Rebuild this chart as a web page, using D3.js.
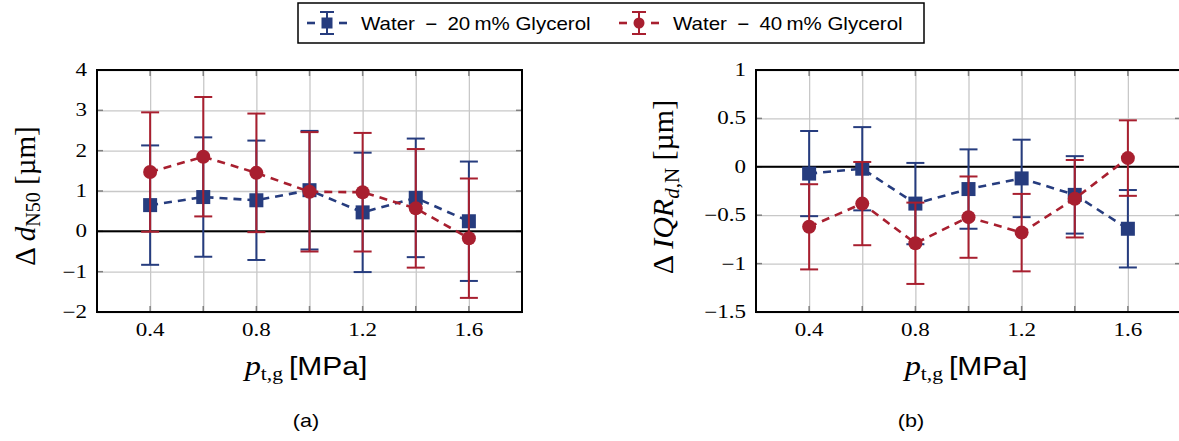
<!DOCTYPE html>
<html><head><meta charset="utf-8">
<script src="https://cdn.jsdelivr.net/npm/d3@7"></script>
<style>
body{margin:0;background:#fff;}
svg{display:block;}
</style></head>
<body>
<svg id="chart" width="1179" height="441"></svg>
<script>
// ---- data ----
const pressures = [0.4, 0.6, 0.8, 1.0, 1.2, 1.4, 1.6];
const seriesNames = ["Water\u2002\u2212\u200220\u2009m% Glycerol", "Water\u2002\u2212\u200240\u2009m% Glycerol"];
// panel (a): Δ d_N50
const dN50_20 = [0.65, 0.85, 0.77, 1.02, 0.47, 0.83, 0.25];
const dN50_20_err = [1.48, 1.48, 1.48, 1.47, 1.48, 1.47, 1.48];
const dN50_40 = [1.47, 1.85, 1.45, 0.98, 0.97, 0.57, -0.17];
const dN50_40_err = [1.48, 1.48, 1.47, 1.48, 1.47, 1.47, 1.48];
// panel (b): Δ IQR_d,N
const iqr_20 = [-0.07, -0.02, -0.38, -0.23, -0.12, -0.29, -0.64];
const iqr_20_err = [0.44, 0.43, 0.42, 0.41, 0.40, 0.40, 0.40];
const iqr_40 = [-0.62, -0.38, -0.79, -0.52, -0.68, -0.33, 0.09];
const iqr_40_err = [0.44, 0.43, 0.42, 0.42, 0.40, 0.40, 0.39];
const xTicks = [0.4, 0.8, 1.2, 1.6];
const yTicksA = [-2, -1, 0, 1, 2, 3, 4];
const yTicksB = [-1.5, -1, -0.5, 0, 0.5, 1];

const colors = ["#263c7e", "#a81f2f"];
const svg = d3.select("#chart");
const serif = "'Liberation Serif', 'DejaVu Serif', serif";
const sans = "'Liberation Sans', Arial, sans-serif";

function fmt(v){ return (v < 0 ? "\u2212" : "") + String(Math.abs(v)); }
// text with horizontal stretch
function stext(parent, x, y, anchor, sx){
  return parent.append("text").attr("transform", `translate(${x},${y}) scale(${sx},1)`)
    .attr("text-anchor", anchor);
}

function panel(cfg){
  const g = svg.append("g");
  const x = d3.scaleLinear().domain([0.2, 1.8]).range([cfg.x0, cfg.x1]);
  const y = d3.scaleLinear().domain(cfg.yDomain).range([cfg.y1, cfg.y0]);

  // grid
  const gx = g.append("g").attr("transform", `translate(0,${cfg.y1})`)
    .call(d3.axisBottom(x).tickValues(pressures).tickSize(-(cfg.y1-cfg.y0)).tickFormat(""));
  gx.select(".domain").remove();
  gx.selectAll("line").attr("stroke", "#c8c8c8").attr("stroke-width", 1.3);
  const gy = g.append("g").attr("transform", `translate(${cfg.x0},0)`)
    .call(d3.axisLeft(y).tickValues(cfg.yTicks).tickSize(-(cfg.x1-cfg.x0)).tickFormat(""));
  gy.select(".domain").remove();
  gy.selectAll("line").attr("stroke", "#c8c8c8").attr("stroke-width", 1.3);

  // inner tick marks
  const tk = g.append("g").attr("stroke", "#808080").attr("stroke-width", 1.5);
  pressures.forEach(p => {
    tk.append("line").attr("x1", x(p)).attr("x2", x(p)).attr("y1", cfg.y1).attr("y2", cfg.y1-6);
    tk.append("line").attr("x1", x(p)).attr("x2", x(p)).attr("y1", cfg.y0).attr("y2", cfg.y0+6);
  });
  cfg.yTicks.forEach(t => {
    tk.append("line").attr("x1", cfg.x0).attr("x2", cfg.x0+6).attr("y1", y(t)).attr("y2", y(t));
    tk.append("line").attr("x1", cfg.x1).attr("x2", cfg.x1-6).attr("y1", y(t)).attr("y2", y(t));
  });

  // zero line
  g.append("line").attr("x1", cfg.x0).attr("x2", cfg.x1).attr("y1", y(0)).attr("y2", y(0))
    .attr("stroke", "#000").attr("stroke-width", 2);

  // tick labels
  xTicks.forEach(d => stext(g, x(d), cfg.y1 + 24, "middle", 1.28)
    .attr("font-family", serif).attr("font-size", 18).text(d.toFixed(1)));
  cfg.yTicks.forEach(d => stext(g, cfg.x0 - 10, y(d) + 6, "end", 1.28)
    .attr("font-family", serif).attr("font-size", 18).text(fmt(d)));

  // series
  cfg.series.forEach((s, si) => {
    const c = colors[si];
    const sg = g.append("g");
    const line = d3.line().x((d,i) => x(pressures[i])).y(d => y(d));
    sg.append("path").datum(s.v).attr("d", line).attr("fill", "none")
      .attr("stroke", c).attr("stroke-width", 2.6).attr("stroke-dasharray", "8,6");
    s.v.forEach((v, i) => {
      const px = x(pressures[i]), lo = y(v - s.e[i]), hi = y(v + s.e[i]);
      sg.append("line").attr("x1", px).attr("x2", px).attr("y1", lo).attr("y2", hi)
        .attr("stroke", c).attr("stroke-width", 2);
      [lo, hi].forEach(yy => sg.append("line").attr("x1", px-9).attr("x2", px+9)
        .attr("y1", yy).attr("y2", yy).attr("stroke", c).attr("stroke-width", 2));
      if (si === 0) sg.append("rect").attr("x", px-7).attr("y", y(v)-7).attr("width", 14).attr("height", 14).attr("fill", c);
      else sg.append("circle").attr("cx", px).attr("cy", y(v)).attr("r", 7).attr("fill", c);
    });
  });

  // frame
  g.append("rect").attr("x", cfg.x0).attr("y", cfg.y0).attr("width", cfg.x1-cfg.x0).attr("height", cfg.y1-cfg.y0)
    .attr("fill", "none").attr("stroke", "#000").attr("stroke-width", 2);

  // x label
  const xl = stext(g, cfg.xlX, 375, "middle", 1.2);
  xl.append("tspan").attr("font-family", serif).attr("font-style", "italic").attr("font-size", 27).text("p");
  xl.append("tspan").attr("font-family", serif).attr("font-size", 18).attr("dy", 5).text("t,g");
  xl.append("tspan").attr("font-family", sans).attr("font-size", 25).attr("dy", -5).text("\u2009[MPa]");

  // panel caption
  stext(g, cfg.capX, 427, "middle", 1.2).attr("font-family", sans).attr("font-size", 18).text(cfg.cap);
  return g;
}

panel({x0: 97, x1: 522, y0: 70, y1: 312, yDomain: [-2, 4], yTicks: yTicksA,
  series: [{v: dN50_20, e: dN50_20_err}, {v: dN50_40, e: dN50_40_err}], capX: 306, cap: "(a)", xlX: 306});
panel({x0: 756, x1: 1181, y0: 70, y1: 312, yDomain: [-1.5, 1], yTicks: yTicksB,
  series: [{v: iqr_20, e: iqr_20_err}, {v: iqr_40, e: iqr_40_err}], capX: 911, cap: "(b)", xlX: 966});

// y labels
const yl1 = svg.append("text").attr("transform", "translate(35,196) rotate(-90)").attr("text-anchor", "middle");
yl1.append("tspan").attr("font-family", serif).attr("font-size", 29).text("\u0394\u2009");
yl1.append("tspan").attr("font-family", serif).attr("font-style", "italic").attr("font-size", 29).text("d");
yl1.append("tspan").attr("font-family", serif).attr("font-size", 20).attr("dy", 5).text("N50");
yl1.append("tspan").attr("font-family", serif).attr("font-size", 29).attr("dy", -5).text(" [\u00b5m]");

const yl2 = svg.append("text").attr("transform", "translate(673,187) rotate(-90)").attr("text-anchor", "middle");
yl2.append("tspan").attr("font-family", serif).attr("font-size", 30).text("\u0394\u2009");
yl2.append("tspan").attr("font-family", serif).attr("font-style", "italic").attr("font-size", 30).text("IQR");
yl2.append("tspan").attr("font-family", serif).attr("font-style", "italic").attr("font-size", 21).attr("dy", 6).text("d");
yl2.append("tspan").attr("font-family", serif).attr("font-size", 21).text(",N");
yl2.append("tspan").attr("font-family", serif).attr("font-size", 30).attr("dy", -6).text(" [\u00b5m]");

// legend
const lg = svg.append("g");
lg.append("rect").attr("x", 298).attr("y", 3).attr("width", 626).attr("height", 40)
  .attr("fill", "#fff").attr("stroke", "#000").attr("stroke-width", 1.5);
const legX = [307, 619];
seriesNames.forEach((name, i) => {
  const c = colors[i], x0 = legX[i], cx = x0 + 20, cy = 23;
  [[x0, x0+8], [x0+32, x0+40]].forEach(([a, b]) => lg.append("line")
    .attr("x1", a).attr("x2", b).attr("y1", cy).attr("y2", cy).attr("stroke", c).attr("stroke-width", 2.6));
  lg.append("line").attr("x1", cx).attr("x2", cx).attr("y1", cy-11).attr("y2", cy+11).attr("stroke", c).attr("stroke-width", 2);
  [cy-11, cy+11].forEach(yy => lg.append("line").attr("x1", cx-7).attr("x2", cx+7).attr("y1", yy).attr("y2", yy).attr("stroke", c).attr("stroke-width", 2));
  if (i === 0) lg.append("rect").attr("x", cx-5.5).attr("y", cy-5.5).attr("width", 11).attr("height", 11).attr("fill", c);
  else lg.append("circle").attr("cx", cx).attr("cy", cy).attr("r", 5.5).attr("fill", c);
  stext(lg, x0 + 54, cy + 7, "start", 1.14).attr("font-family", sans).attr("font-size", 18).text(name);
});
</script>
</body></html>
